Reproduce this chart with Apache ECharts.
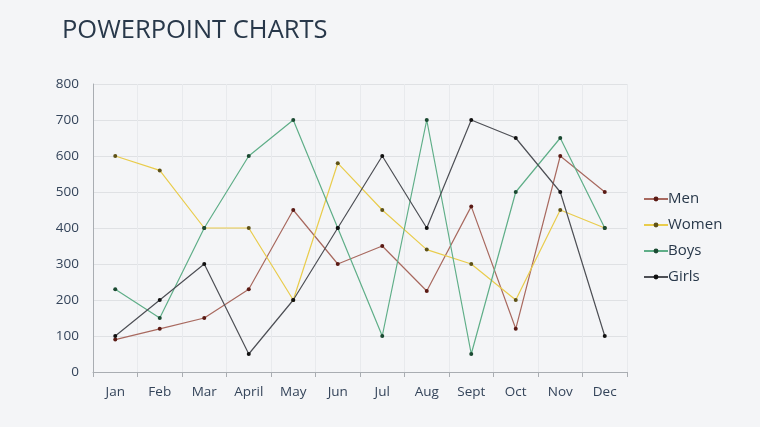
<!DOCTYPE html>
<html><head><meta charset="utf-8">
<script src="https://cdn.jsdelivr.net/npm/echarts@6/dist/echarts.min.js"></script>
<style>html,body{margin:0;padding:0;background:#f4f5f7;}#c{width:760px;height:427px;}</style>
</head><body><div id="c"></div>
<script>
const categories = ['Jan','Feb','Mar','April','May','Jun','Jul','Aug','Sept','Oct','Nov','Dec'];
const men   = [90,120,150,230,450,300,350,225,460,120,600,500];
const women = [600,560,400,400,200,580,450,340,300,200,450,400];
const boys  = [230,150,400,600,700,400,100,700,50,500,650,400];
const girls = [100,200,300,50,200,400,600,400,700,650,500,100];
const yTicks = {min:0,max:800,interval:100};

const font = '"Open Sans", "Noto Sans", sans-serif';
function mk(name, data, line, dot){
  return {name, type:'line', data, symbol:'circle', symbolSize:4, showSymbol:true,
    lineStyle:{color:line, width:1.2}, itemStyle:{color:dot, borderWidth:0}, color:line,
    emphasis:{disabled:true}};
}
const chart = echarts.init(document.getElementById('c'), null, {renderer:'canvas'});
chart.setOption({
  backgroundColor:'#f4f5f7',
  animation:false,
  title:{text:'POWERPOINT CHARTS', left:57, top:13, textStyle:{fontFamily:font, fontSize:25.5, fontWeight:'normal', color:'#28384a'}},
  grid:{left:93, right:133, top:84, bottom:55},
  legend:{orient:'vertical', left:638, top:185, itemGap:8, itemWidth:24, itemHeight:6,
    textStyle:{fontFamily:font, fontSize:15, color:'#28384a', padding:[0,0,0,-5], lineHeight:18},
    data:['Men','Women','Boys','Girls']},
  xAxis:{type:'category', data:categories, boundaryGap:true,
    axisLine:{lineStyle:{color:'#a9adb2'}}, axisTick:{show:true, length:5, lineStyle:{color:'#a9adb2'}},
    axisLabel:{fontFamily:font, fontSize:13.5, color:'#34445a', margin:13},
    splitLine:{show:true, lineStyle:{color:'#e8eaed'}}},
  yAxis:{type:'value', min:yTicks.min, max:yTicks.max, interval:yTicks.interval,
    axisLine:{show:true, lineStyle:{color:'#a9adb2'}}, axisTick:{show:false},
    axisLabel:{fontFamily:font, fontSize:13.5, color:'#34445a', margin:14},
    splitLine:{lineStyle:{color:'#dfe1e4'}}},
  series:[
    mk('Men', men, '#a8695f', '#5a1a14'),
    mk('Women', women, '#e9cc4c', '#5e5218'),
    mk('Boys', boys, '#5fae88', '#1b4a32'),
    mk('Girls', girls, '#4d4f55', '#111111')
  ]
});
</script></body></html>
